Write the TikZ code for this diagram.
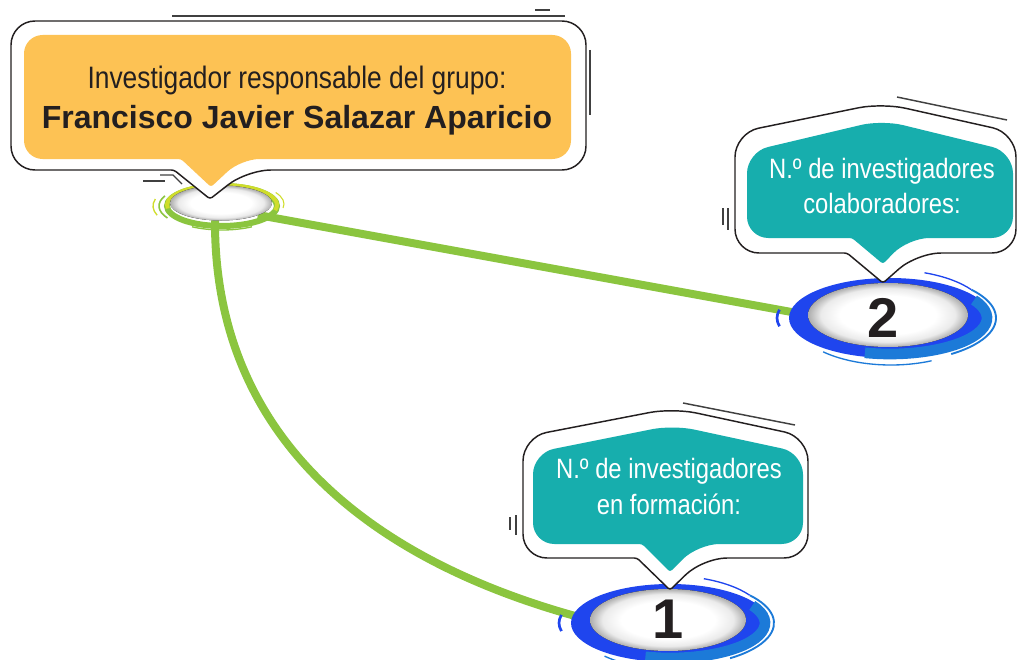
\documentclass[tikz,border=0pt]{standalone}
\usepackage{fontspec}
\setmainfont{Liberation Sans}
\newfontfamily\condfont{Liberation Sans}[FakeStretch=0.85]
\usetikzlibrary{shapes.geometric}
\definecolor{orangebox}{HTML}{FDC254}
\definecolor{tealbox}{HTML}{17AEAD}
\definecolor{lgreen}{HTML}{8BC53F}
\definecolor{ygreen}{HTML}{CFDD2B}
\definecolor{dblue}{HTML}{1F45EE}
\definecolor{lblue}{HTML}{1C7AD8}
\definecolor{inkc}{HTML}{231F20}
\pgfdeclareradialshading{hole}{\pgfpoint{0bp}{0bp}}{color(0bp)=(white); color(15bp)=(white); color(21bp)=(black!8); color(25bp)=(black!32); color(50bp)=(black!32)}
\tikzset{
  outline/.style={draw=inkc, line width=1.1pt, fill=white, line join=round},
  deco/.style={draw=black!75, line width=1.1pt},
  conn/.style={draw=lgreen, line width=6pt},
  hub/.style={ellipse, inner sep=0pt, outer sep=0pt},
  ltext/.style={text=inkc, inner sep=0pt, anchor=base, font=\condfont\fontsize{23.25pt}{28pt}\selectfont},
  btext/.style={text=inkc, inner sep=0pt, anchor=base, font=\bfseries\fontsize{24pt}{28pt}\selectfont},
  ttext/.style={text=white, inner sep=0pt, anchor=base, font=\condfont\fontsize{21pt}{26pt}\selectfont},
  digit/.style={text=inkc, inner sep=0pt, anchor=base, font=\bfseries\fontsize{42pt}{42pt}\selectfont},
}
\begin{document}
\begin{tikzpicture}[x=0.75pt,y=-0.75pt]
\useasboundingbox (0,0) rectangle (1018,660);
% invisible hub nodes
\node[hub, minimum width=76.5pt, minimum height=26pt] (g) at (221,203) {};
\node[hub, minimum width=120pt, minimum height=48pt] (b2) at (888,315) {};
\node[hub, minimum width=117pt, minimum height=46pt] (b1) at (668,620) {};
% connectors
\draw[conn] (g.-18) -- (b2.west);
\draw[conn] ([xshift=-4.5pt]g.south) .. controls (214,430) and (360,560) .. (b1.west);
% green hub
\draw[lgreen, line width=4.5pt] (222,206) ellipse [x radius=55, y radius=20];
\draw[ygreen, line width=3pt] (222,205) ++(170:55 and 20) arc[start angle=170, end angle=375, x radius=55, y radius=20];
\draw[lgreen, line width=1.2pt] (222,206) ++(150:63 and 24) arc[start angle=150, end angle=205, x radius=63, y radius=24];
\draw[ygreen, line width=1pt] (222,206) ++(160:69 and 27) arc[start angle=160, end angle=195, x radius=69, y radius=27];
\draw[lgreen, line width=1pt] (222,206) ++(60:60 and 24) arc[start angle=60, end angle=120, x radius=60, y radius=24];
\draw[ygreen, line width=0.8pt] (222,204) ++(-30:62 and 23) arc[start angle=-30, end angle=10, x radius=62, y radius=23];
\fill[shading=hole] (221,203) ellipse [x radius=51, y radius=17.5];
% blue hole 2
\fill[dblue] (890,318) ellipse [x radius=101, y radius=40];
\draw[lblue, line width=8pt] (890,318) ++(-30:97 and 36) arc[start angle=-30, end angle=105, x radius=97, y radius=36];
\draw[lblue, line width=1.4pt] (891,318) ++(-40:105 and 44) arc[start angle=-40, end angle=55, x radius=105, y radius=44];
\draw[lblue, line width=1pt] (891,320) ++(65:96 and 45) arc[start angle=65, end angle=135, x radius=96, y radius=45];
\draw[dblue, line width=1pt] (891,316) ++(-70:98 and 46) arc[start angle=-70, end angle=-35, x radius=98, y radius=46];
\draw[dblue, line width=2pt] (891,318) ++(168:114 and 40) arc[start angle=168, end angle=192, x radius=114, y radius=40];
\fill[shading=hole] (888,315) ellipse [x radius=80, y radius=32];
\node[digit] (n2) at (883,337) {2};
% blue hole 1
\fill[dblue] (670,623) ellipse [x radius=99, y radius=39];
\draw[lblue, line width=8pt] (670,623) ++(-30:95 and 35) arc[start angle=-30, end angle=105, x radius=95, y radius=35];
\draw[lblue, line width=1.4pt] (671,623) ++(-40:103 and 43) arc[start angle=-40, end angle=55, x radius=103, y radius=43];
\draw[lblue, line width=1pt] (671,625) ++(65:94 and 44) arc[start angle=65, end angle=135, x radius=94, y radius=44];
\draw[dblue, line width=1pt] (671,621) ++(-70:96 and 45) arc[start angle=-70, end angle=-35, x radius=96, y radius=45];
\draw[dblue, line width=2pt] (671,623) ++(168:112 and 39) arc[start angle=168, end angle=192, x radius=112, y radius=39];
\fill[shading=hole] (668,620) ellipse [x radius=78, y radius=31];
\node[digit] (n1) at (668,638) {1};
% orange callout
\path[outline] (300,21) [rounded corners=18] -- (586,21) -- (586,170) -- (247,170) [rounded corners=2] -- (210,199) -- (174,170) [rounded corners=18] -- (11,170) -- (11,21) -- cycle;
\fill[orangebox] (300,35) [rounded corners=14] -- (571,35) -- (571,159) -- (241,159) [rounded corners=2] -- (211,187) -- (181,159) [rounded corners=14] -- (24,159) -- (24,35) -- cycle;
\draw[deco] (172,16) -- (565,16);
\draw[deco] (535,10) -- (550,10);
\draw[deco] (590,50) -- (590,115);
\draw[deco, line width=0.9pt] (160,175) -- (173,175) -- (182,184);
\draw[deco, line width=0.9pt] (143,181) -- (165,181);
\node[ltext] (o1) at (297,89) {Investigador responsable del grupo:};
\node[btext] (o2) at (297,128) {Francisco Javier Salazar Aparicio};
% teal callout 2
\path[outline] (735,190) [rounded corners=18] -- (735,133) -- (882,103) -- (1016,133) -- (1016,253) -- (917,253) [rounded corners=2] -- (883,283) -- (847,253) [rounded corners=18] -- (735,253) -- cycle;
\fill[tealbox] (747,195) [rounded corners=16] -- (747,152) -- (882,120) -- (1013,152) -- (1013,238) -- (908,238) [rounded corners=2] -- (883,264) -- (852,238) [rounded corners=16] -- (747,238) -- cycle;
\draw[deco] (897,97) -- (1007,120);
\draw[deco, line width=0.9pt] (723,208) -- (723,225);
\draw[deco, line width=0.9pt] (728,208) -- (728,230);
\node[ttext] (c2a) at (882,178) {N.º de investigadores};
\node[ttext] (c2b) at (882,213) {colaboradores:};
% teal callout 1
\path[outline] (523,500) [rounded corners=18] -- (523,437) -- (673,408) -- (808,437) -- (808,558) -- (703,558) [rounded corners=2] -- (670,590) -- (637,558) [rounded corners=18] -- (523,558) -- cycle;
\fill[tealbox] (533,500) [rounded corners=16] -- (533,453) -- (673,425) -- (803,453) -- (803,544) -- (698,544) [rounded corners=2] -- (670,572) -- (642,544) [rounded corners=16] -- (533,544) -- cycle;
\draw[deco] (683,403) -- (795,425);
\draw[deco, line width=0.9pt] (510,517) -- (510,530);
\draw[deco, line width=0.9pt] (516,515) -- (516,535);
\node[ttext] (c1a) at (669,478) {N.º de investigadores};
\node[ttext] (c1b) at (669,514) {en formación:};
\end{tikzpicture}
\end{document}
